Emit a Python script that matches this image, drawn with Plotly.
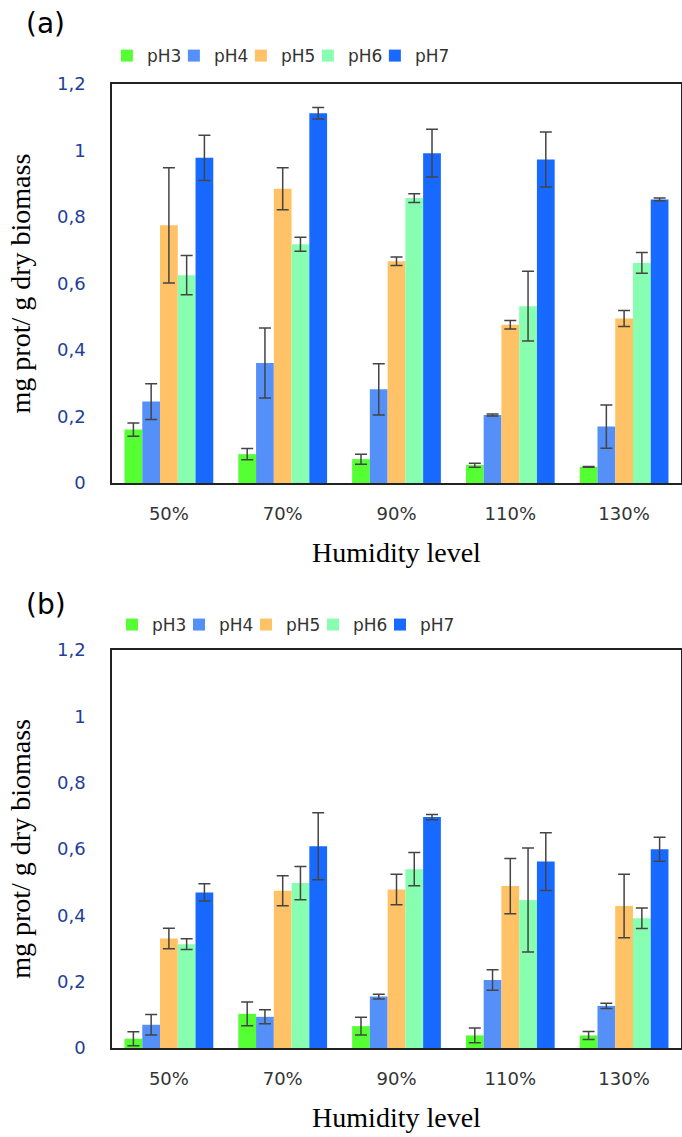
import plotly.graph_objects as go
from plotly.subplots import make_subplots

# Data
humidity = ["50%", "70%", "90%", "110%", "130%"]
series = ["pH3", "pH4", "pH5", "pH6", "pH7"]
colors = ["#55FF33", "#5590F8", "#FFC266", "#88FFB0", "#1769FF"]

# panel (a)
a_means = [
    [0.161, 0.087, 0.072, 0.054, 0.049],   # pH3
    [0.245, 0.361, 0.282, 0.205, 0.170],   # pH4
    [0.775, 0.885, 0.667, 0.476, 0.495],   # pH5
    [0.625, 0.718, 0.857, 0.532, 0.662],   # pH6
    [0.978, 1.112, 0.992, 0.973, 0.853],   # pH7
]
a_errs = [
    [0.020, 0.017, 0.015, 0.006, 0.001],
    [0.054, 0.105, 0.077, 0.003, 0.065],
    [0.173, 0.063, 0.013, 0.013, 0.024],
    [0.059, 0.021, 0.013, 0.105, 0.031],
    [0.068, 0.017, 0.072, 0.083, 0.004],
]

# panel (b)
b_means = [
    [0.028, 0.103, 0.066, 0.038, 0.038],
    [0.070, 0.094, 0.155, 0.205, 0.127],
    [0.330, 0.474, 0.478, 0.488, 0.428],
    [0.313, 0.497, 0.539, 0.446, 0.391],
    [0.469, 0.608, 0.696, 0.562, 0.599],
]
b_errs = [
    [0.021, 0.036, 0.027, 0.022, 0.012],
    [0.031, 0.021, 0.007, 0.031, 0.008],
    [0.031, 0.045, 0.046, 0.083, 0.096],
    [0.016, 0.050, 0.050, 0.157, 0.031],
    [0.026, 0.101, 0.008, 0.087, 0.036],
]

y_ticks = [0, 0.2, 0.4, 0.6, 0.8, 1.0, 1.2]
y_ticktext = ["0", "0,2", "0,4", "0,6", "0,8", "1", "1,2"]

fig = make_subplots(rows=2, cols=1)

for row, means, errs, leg in [(1, a_means, a_errs, "legend"), (2, b_means, b_errs, "legend2")]:
    for name, col, m, e in zip(series, colors, means, errs):
        fig.add_trace(go.Bar(
            name=name, x=humidity, y=m,
            marker=dict(color=col, line=dict(width=0)),
            error_y=dict(type="data", array=e, color="#444444", thickness=1.5, width=6),
            legend=leg,
            # last entry gets room for its text so it is not clipped
            legendwidth=40 if name == series[-1] else 22,
        ), row=row, col=1)

tick_font = dict(family="DejaVu Sans", size=18, color="#233E99")
xtick_font = dict(family="DejaVu Sans", size=18, color="#333333")
title_font = dict(family="Liberation Serif", size=28, color="black")
legend_font = dict(family="DejaVu Sans", size=17, color="#333333")

for r, dom in [(1, [0.586, 1.0]), (2, [0.0, 0.413])]:
    fig.update_yaxes(
        domain=dom, range=[0, 1.2], tickvals=y_ticks, ticktext=y_ticktext,
        showgrid=False, zeroline=False, showline=True, linecolor="#222222",
        linewidth=1.5, mirror=True, ticks="outside", ticklen=21,
        tickcolor="rgba(0,0,0,0)", tickfont=tick_font, automargin=False,
        title=dict(text="mg prot/ g dry biomass", font=title_font, standoff=18),
        row=r, col=1)
    fig.update_xaxes(
        showgrid=False, showline=True, linecolor="#222222", linewidth=1.5,
        mirror=True, ticks="outside", ticklen=14, tickcolor="rgba(0,0,0,0)",
        tickfont=xtick_font, automargin=False,
        title=dict(text="Humidity level", font=title_font, standoff=19),
        row=r, col=1)

fig.update_layout(
    width=682, height=1137,
    margin=dict(l=112, r=1, t=84, b=89),
    plot_bgcolor="white", paper_bgcolor="white",
    barmode="group", bargap=0.22, bargroupgap=0,
    legend=dict(orientation="h", x=-0.009, xanchor="left", y=1.029, yanchor="middle",
                font=legend_font, itemwidth=30,
                bgcolor="rgba(0,0,0,0)", traceorder="normal"),
    # kept at x=0 so it is treated as inside the plot width (no wrapping)
    legend2=dict(orientation="h", x=0, xanchor="left", y=0.4388, yanchor="middle",
                 font=legend_font, itemwidth=30,
                 bgcolor="rgba(0,0,0,0)", traceorder="normal"),
)

# panel labels, pixel positions converted to paper coordinates
pw, ph = 682 - 112 - 1, 1137 - 84 - 89
for lbl, px, py in [("(a)", 24, 23), ("(b)", 24, 604)]:
    fig.add_annotation(text=lbl, x=(px - 112) / pw, y=(1137 - 89 - py) / ph,
                       xref="paper", yref="paper", xanchor="left", yanchor="middle",
                       showarrow=False,
                       font=dict(family="DejaVu Sans", size=28, color="black"))

# drop the default page margin so the figure fills the window exactly
fig.write_html("out.html", config={"displayModeBar": False},
               post_script="document.body.style.margin='0';")
